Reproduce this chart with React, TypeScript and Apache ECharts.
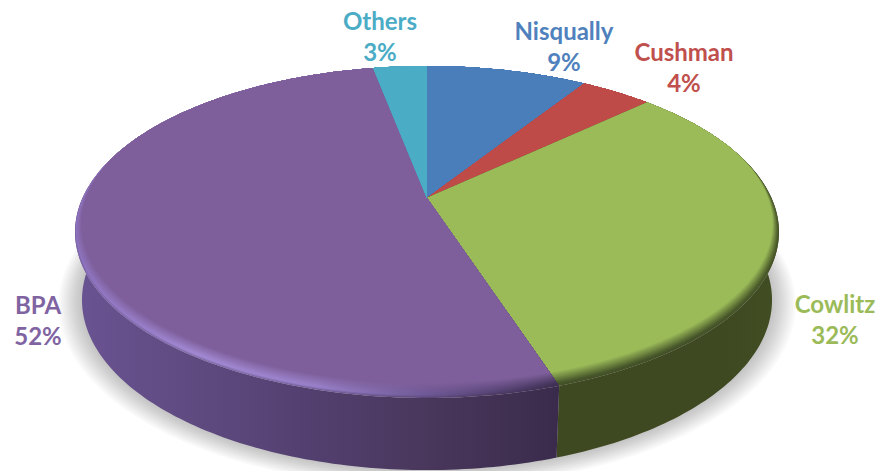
import React, { useEffect, useRef } from "react";
import * as echarts from "echarts";

const categories = ["Nisqually", "Cushman", "Cowlitz", "BPA", "Others"];
const shares = [9, 4, 32, 52, 3];

const topColors = ["#4a7ebb", "#be4b48", "#9bbb59", "#7e5f9b", "#4bacc6"];
const labelColors = ["#4f81bd", "#c0504d", "#9bbb59", "#8064a2", "#4bacc6"];
const rimStops = [
  ["#3f6ca3", "#3f6ca3", "#3f6ca3", "#3f6ca3", "#3f6ca3"],
  ["#a8413e", "#a8413e", "#a8413e", "#a8413e", "#a8413e"],
  ["#46552a", "#46552a", "#46552a", "#46552a", "#4c5c2a"],
  ["#8d72bd", "#a48bd6", "#9a82cb", "#6a5490", "#3f3054"],
  ["#3f94ab", "#3f94ab", "#3f94ab", "#3f94ab", "#3f94ab"],
];
const wallStops = [
  ["#2e4d70", "#2e4d70", "#2e4d70", "#2e4d70", "#2e4d70"],
  ["#702e2c", "#702e2c", "#702e2c", "#702e2c", "#702e2c"],
  ["#3e4921", "#3e4921", "#3e4921", "#3e4921", "#414d23"],
  ["#6a5392", "#5f4a80", "#523f6e", "#48365a", "#3a2b4c"],
  ["#2e6c7c", "#2e6c7c", "#2e6c7c", "#2e6c7c", "#2e6c7c"],
];

const labelSpots: Record<string, [number, number]> = {
  Others: [380, 36],
  Nisqually: [564, 46],
  Cushman: [684, 67],
  Cowlitz: [835, 319],
  BPA: [38, 320],
};

const PERSPECTIVE = 0.2048;
const APEX_X = 427;
const TOP_DISC = { a: -118.5, b: 198, w: 344.5 };
const BOTTOM_DISC = { a: -108.6, b: 265.2, w: 337.7 };

function project(disc: { a: number; b: number; w: number }, alpha: number, r = 1): number[] {
  const u = r * Math.sin(alpha);
  const v = r * Math.cos(alpha);
  const d = 1 + PERSPECTIVE * v;
  return [APEX_X + (disc.w * u) / d, (disc.a * v + disc.b) / d];
}

function sliceAngles(index: number): [number, number] {
  const total = shares.reduce((s, v) => s + v, 0);
  const before = shares.slice(0, index).reduce((s, v) => s + v, 0);
  return [(before / total) * Math.PI * 2, ((before + shares[index]) / total) * Math.PI * 2];
}

function arcAngles(from: number, to: number): number[] {
  const n = Math.max(4, Math.ceil(((to - from) * 180) / Math.PI));
  const list: number[] = [];
  for (let i = 0; i <= n; i++) list.push(from + ((to - from) * i) / n);
  return list;
}

function hex(c: string): number[] {
  return [1, 3, 5].map((i) => parseInt(c.slice(i, i + 2), 16));
}
function mix(a: string, b: string, f: number): string {
  const x = hex(a);
  const y = hex(b);
  const out = x.map((v, i) => Math.round(v + (y[i] - v) * f));
  return "#" + out.map((v) => v.toString(16).padStart(2, "0")).join("");
}
function hGradient(stops: string[]) {
  return {
    type: "linear",
    x: 0,
    y: 0,
    x2: 1,
    y2: 0,
    colorStops: stops.map((color, i) => ({ offset: i / (stops.length - 1), color })),
  };
}

const BEVEL_WIDTH = 0.06;
const BEVEL_LAYERS = 14;
const RIM_PEAK = 0.16;
const SHADOW_LAYERS = 10;
const SHADOW_REACH = 0.065;

function renderWall(params: any) {
  const i = params.dataIndex;
  const [from, to] = sliceAngles(i);
  const angles = arcAngles(from, to);
  const points = [
    ...angles.map((a) => project(TOP_DISC, a)),
    ...angles.slice().reverse().map((a) => project(BOTTOM_DISC, a)),
  ];
  return {
    type: "polygon",
    shape: { points },
    style: { fill: hGradient(wallStops[i]) },
  };
}

function layerColor(i: number, stop: number, f: number): string {
  const rim = rimStops[i][stop];
  if (f < RIM_PEAK) return mix(mix(wallStops[i][stop], rim, 0.5), rim, f / RIM_PEAK);
  return mix(rim, topColors[i], (f - RIM_PEAK) / (1 - RIM_PEAK));
}

function renderTop(params: any) {
  const i = params.dataIndex;
  const [from, to] = sliceAngles(i);
  const angles = arcAngles(from, to);
  const children: any[] = [];
  for (let layer = 0; layer <= BEVEL_LAYERS; layer++) {
    const f = layer / BEVEL_LAYERS;
    const points = [
      [APEX_X, TOP_DISC.b],
      ...angles.map((a) => {
        const k = Math.pow(Math.max(0, Math.min(1, (0.35 - Math.cos(a)) / 1.35)), 1.3);
        return project(TOP_DISC, a, 1 - BEVEL_WIDTH * f * k);
      }),
    ];
    const fill =
      layer === BEVEL_LAYERS
        ? topColors[i]
        : hGradient(rimStops[i].map((_, s) => layerColor(i, s, f)));
    children.push({ type: "polygon", shape: { points }, style: { fill } });
  }
  return { type: "group", children };
}

function renderShadow(params: any) {
  if (params.dataIndex !== 0) return { type: "group", children: [] };
  const angles = arcAngles(0, Math.PI * 2);
  const children: any[] = [];
  for (let layer = SHADOW_LAYERS; layer >= 1; layer--) {
    const r = 1 + (SHADOW_REACH * layer) / SHADOW_LAYERS;
    children.push({
      type: "polygon",
      shape: { points: angles.map((a) => project(BOTTOM_DISC, a, r)) },
      style: { fill: "rgba(0,0,0,0.022)" },
    });
  }
  return { type: "group", children };
}

export default function App() {
  const ref = useRef<HTMLDivElement>(null);
  useEffect(() => {
    if (!ref.current) return;
    const chart = echarts.init(ref.current, undefined, { renderer: "svg" });
    chart.setOption({
      animation: false,
      backgroundColor: "#ffffff",
      series: [
        { type: "custom", coordinateSystem: "none", silent: true, z: 1, data: shares, renderItem: renderShadow },
        { type: "custom", coordinateSystem: "none", silent: true, z: 2, data: shares, renderItem: renderWall },
        { type: "custom", coordinateSystem: "none", silent: true, z: 3, data: shares, renderItem: renderTop },
      ],
      graphic: categories.map((name, i) => ({
        type: "text",
        x: labelSpots[name][0],
        y: labelSpots[name][1],
        z: 10,
        style: {
          text: `${name}\n${shares[i]}%`,
          fill: labelColors[i],
          font: 'bold 24px Lato, "Open Sans", sans-serif',
          lineHeight: 31,
          align: "center",
          verticalAlign: "middle",
        },
      })),
    });
    return () => chart.dispose();
  }, []);
  return <div ref={ref} style={{ position: "absolute", left: 0, top: 0, width: 880, height: 471 }} />;
}
